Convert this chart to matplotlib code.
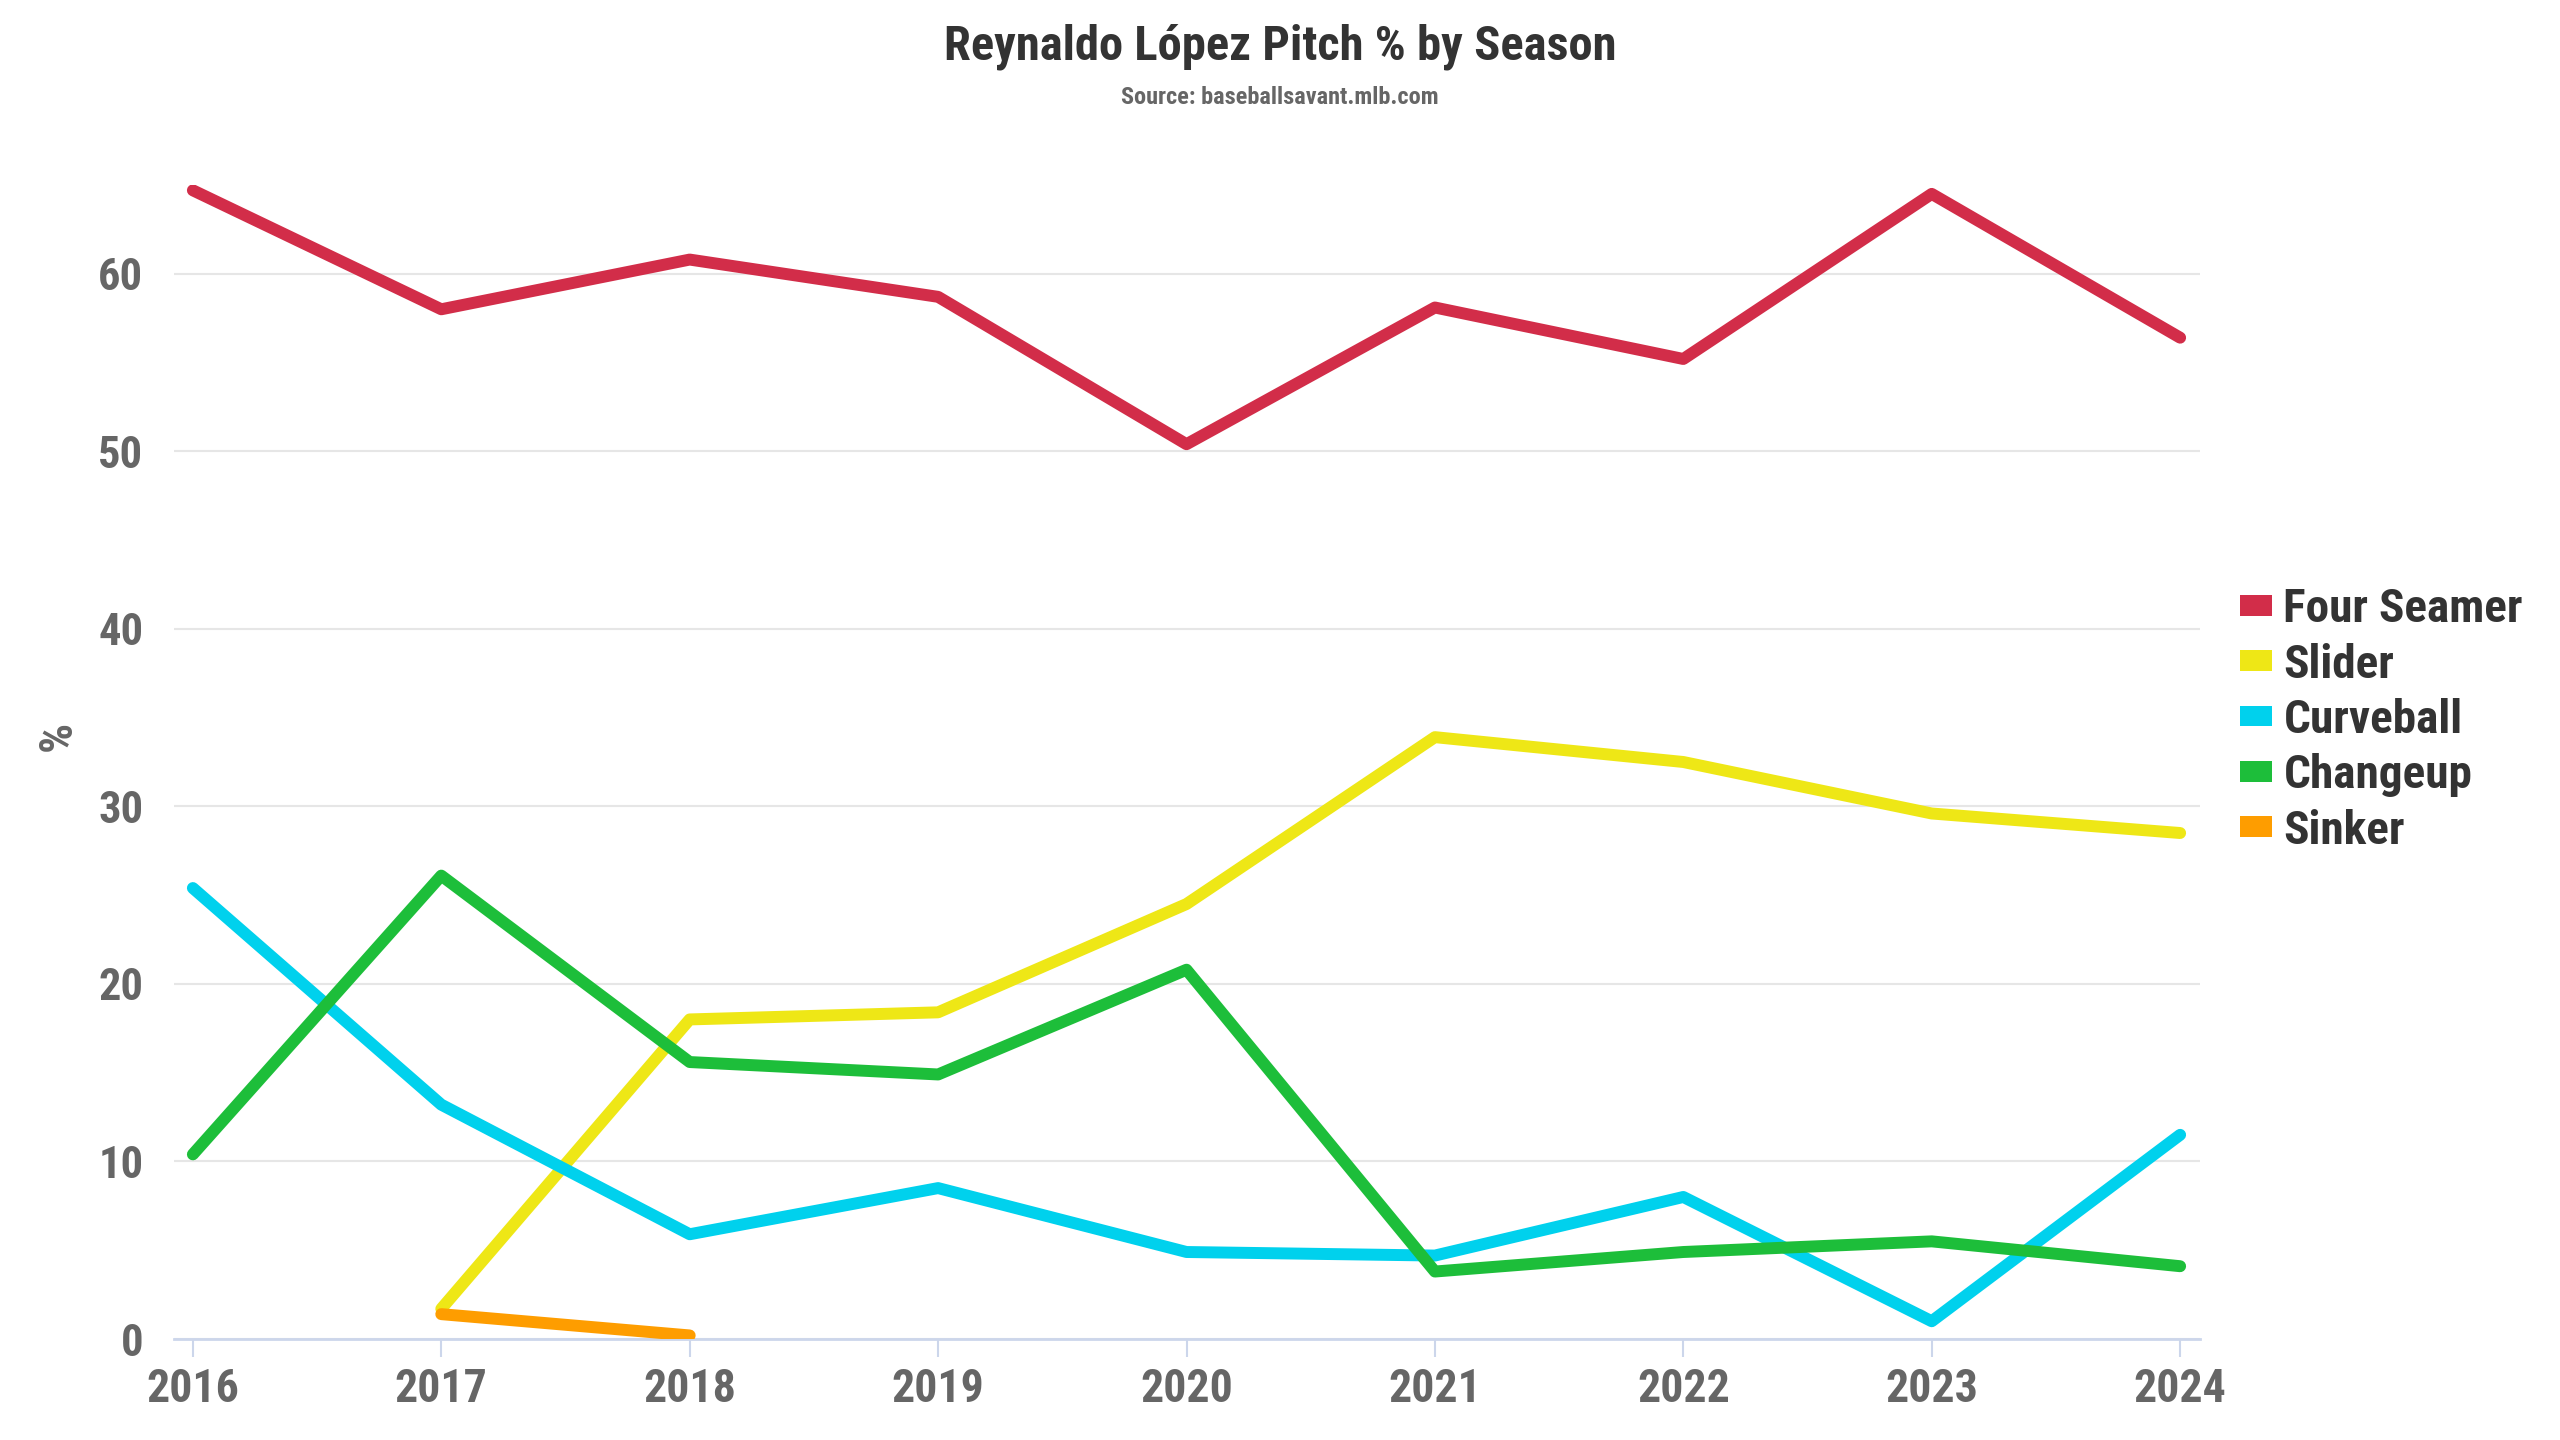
import numpy as np
import matplotlib
matplotlib.use('Agg')
import matplotlib.pyplot as plt
from matplotlib import font_manager
from matplotlib.patches import Patch

# data
seasons = [2016, 2017, 2018, 2019, 2020, 2021, 2022, 2023, 2024]
four_seamer = [64.7, 58.0, 60.8, 58.7, 50.4, 58.1, 55.2, 64.5, 56.4]
slider = [np.nan, 1.7, 18.0, 18.4, 24.5, 33.9, 32.5, 29.6, 28.5]
curveball = [25.4, 13.2, 5.9, 8.5, 4.9, 4.7, 8.0, 1.0, 11.5]
changeup = [10.4, 26.1, 15.6, 14.9, 20.8, 3.8, 4.9, 5.5, 4.1]
sinker = [np.nan, 1.4, 0.2, np.nan, np.nan, np.nan, np.nan, np.nan, np.nan]

pitch_names = ['Four Seamer', 'Slider', 'Curveball', 'Changeup', 'Sinker']
pitch_colors = ['#d22d49', '#eee716', '#00d1ed', '#1dbe3a', '#fe9d00']
yticks = [0, 10, 20, 30, 40, 50, 60]

names = {f.name for f in font_manager.fontManager.ttflist}
fam = 'Roboto Condensed' if 'Roboto Condensed' in names else 'Roboto'
plt.rcParams['font.family'] = [fam, 'DejaVu Sans']
plt.rcParams['font.weight'] = 'bold'

fig = plt.figure(figsize=(25.6, 14.4), dpi=100)
ax = fig.add_axes([174/2560, 101/1440, (2200-174)/2560, (1339-185)/1440])

series = [four_seamer, slider, curveball, changeup, sinker]
for vals, name, col in zip(series, pitch_names, pitch_colors):
    ax.plot(seasons, vals, color=col, lw=8.6, solid_capstyle='round',
            solid_joinstyle='round', label=name, zorder=3)

ax.set_xlim(2015.924, 2024.08)
ax.set_ylim(0, 65)
ax.set_xticks(seasons)
ax.set_xticklabels([str(s) for s in seasons])
ax.set_yticks(yticks)
ax.grid(axis='y', color='#e6e6e6', lw=1.5, zorder=0)
ax.set_axisbelow(True)
for s in ['top', 'right', 'left']:
    ax.spines[s].set_visible(False)
ax.spines['bottom'].set_color('#ccd6eb')
ax.spines['bottom'].set_linewidth(2)
ax.tick_params(axis='x', length=13, width=1.5, color='#ccd6eb', pad=7,
               labelsize=33, labelcolor='#666666')
ax.tick_params(axis='y', length=0, pad=22, labelsize=32, labelcolor='#666666')
for lab in ax.get_xticklabels() + ax.get_yticklabels():
    lab.set_fontweight('bold')

fig.text(58/2560, 1 - 736/1440, '%', rotation=90, ha='center', va='center',
         fontsize=34, color='#666666', fontweight='bold')

fig.text(0.5, 1 - 60/1440, 'Reynaldo López Pitch % by Season', ha='center',
         va='baseline', fontsize=35, color='#333333', fontweight='bold')
fig.text(0.5, 1 - 104/1440, 'Source: baseballsavant.mlb.com', ha='center',
         va='baseline', fontsize=17.5, color='#666666', fontweight='bold')

handles = [Patch(facecolor=c, edgecolor='none') for c in pitch_colors]
leg = fig.legend(handles, pitch_names, loc='center left',
                 bbox_to_anchor=(2240/2560, 1 - 720/1440), frameon=False,
                 borderpad=0, borderaxespad=0, handlelength=0.68,
                 handleheight=0.3, handletextpad=0.24, labelspacing=0.24,
                 prop={'size': 34, 'weight': 'bold'})
for t in leg.get_texts():
    t.set_color('#333333')

fig.savefig('out.png', dpi=100)
